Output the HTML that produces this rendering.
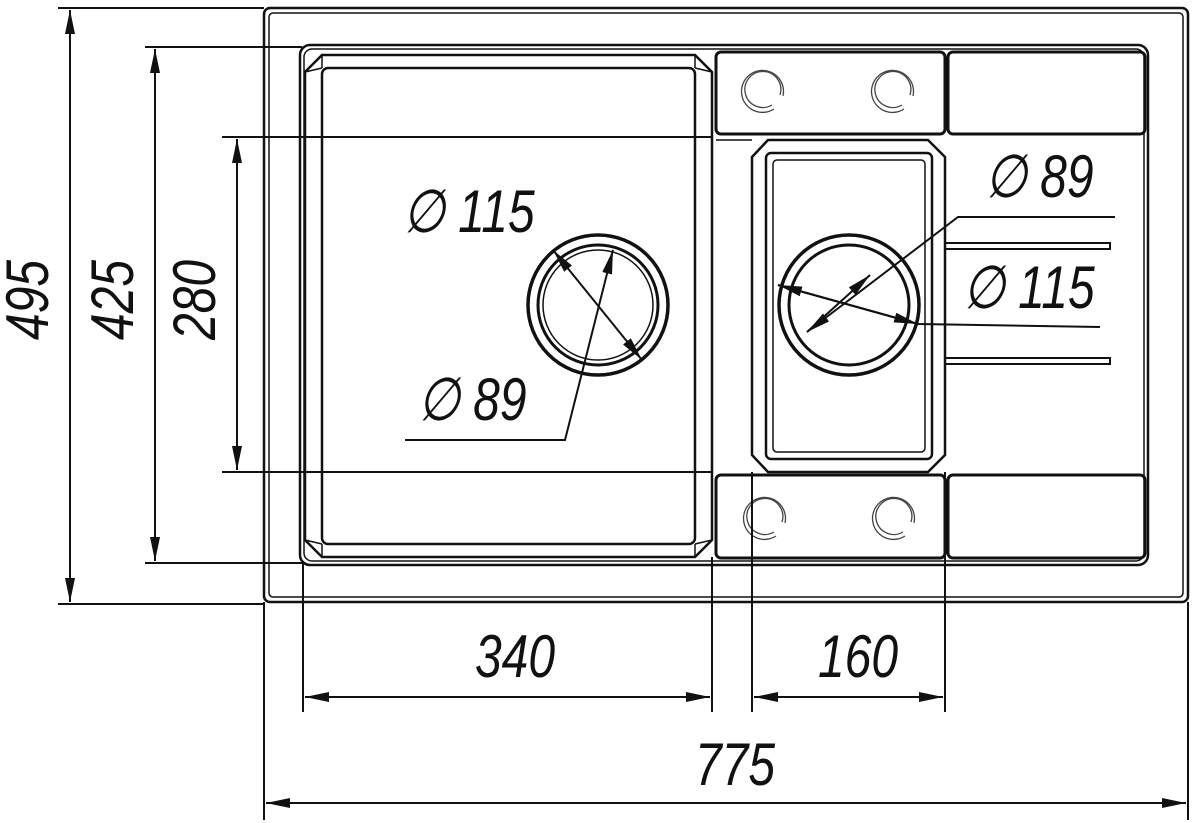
<!DOCTYPE html>
<html><head><style>
html,body{margin:0;padding:0;background:#fff;}
svg{display:block;}
text{font-family:"Liberation Sans",sans-serif;font-style:italic;fill:#111;}
</style></head><body>
<svg width="1200" height="823" viewBox="0 0 1200 823" xmlns="http://www.w3.org/2000/svg">
<defs>
<marker id="a" viewBox="0 0 24 10" refX="24" refY="5" markerWidth="24" markerHeight="10" orient="auto-start-reverse" markerUnits="userSpaceOnUse">
<path d="M0,0 L24,5 L0,10 Z" fill="#111"/></marker>
</defs>
<g fill="none" stroke="#111" stroke-width="2.5">
<rect x="264" y="8" width="924" height="594" rx="6"/>
<rect x="269" y="13" width="914" height="584" rx="4" stroke-width="1.5"/>
<rect x="300" y="45" width="848" height="520" rx="10"/>
<rect x="304" y="49" width="840" height="512" rx="8" stroke-width="1.5"/>
<path d="M322,55 L695,55 L712,72 L712,540 L695,557 L322,557 L305,540 L305,72 Z"/>
<rect x="322" y="68" width="373" height="476" rx="6"/>
<path d="M305,72 L322,68 M322,55 L322,68 M695,55 L695,68 M712,72 L695,68 M305,540 L322,544 M322,557 L322,544 M695,557 L695,544 M712,540 L695,544" stroke-width="1.5"/>
<rect x="716" y="52" width="229" height="82" rx="5" stroke-width="3"/>
<rect x="948" y="52" width="197" height="82" rx="5" stroke-width="3"/>
<rect x="716" y="475" width="229" height="83" rx="5" stroke-width="3"/>
<rect x="948" y="475" width="197" height="83" rx="5" stroke-width="3"/>
<path d="M768,140 L928,140 L945,157 L945,455 L928,472 L768,472 L752,455 L752,157 Z"/>
<rect x="766" y="153" width="166" height="306" rx="5"/>
<rect x="773" y="160" width="152" height="292" rx="4" stroke-width="1.5"/>
<line x1="716" y1="140" x2="752" y2="140" stroke-width="1.5"/>
<path d="M945,243 L1110,243 L1110,249 L945,249 M945,358 L1110,358 L1110,364 L945,364" stroke-width="2"/>
<g stroke-width="1.3" stroke="#444">
<path d="M774,109 A21,21 0 1 1 783,96"/><path d="M772,105 A18,18 0 1 1 780,95"/>
<path d="M904,109 A21,21 0 1 1 913,96"/><path d="M902,105 A18,18 0 1 1 910,95"/>
<path d="M776,536 A21,21 0 1 1 785,523"/><path d="M774,532 A18,18 0 1 1 782,522"/>
<path d="M905,536 A21,21 0 1 1 914,523"/><path d="M903,532 A18,18 0 1 1 911,522"/>
</g>
<circle cx="598" cy="305" r="70" stroke-width="3.5"/>
<circle cx="598" cy="305" r="60" stroke-width="3"/>
<circle cx="598" cy="305" r="55" stroke-width="1.5"/>
<circle cx="849" cy="305" r="70" stroke-width="3.5"/>
<circle cx="849" cy="305" r="60" stroke-width="3"/>
</g>
<g fill="none" stroke="#111" stroke-width="2">
<line x1="58" y1="8" x2="264" y2="8"/>
<line x1="58" y1="604" x2="264" y2="604"/>
<line x1="145" y1="47" x2="302" y2="47"/>
<line x1="145" y1="563" x2="302" y2="563"/>
<line x1="222" y1="137" x2="712" y2="137"/>
<line x1="222" y1="472" x2="712" y2="472"/>
<line x1="70" y1="10" x2="70" y2="602" marker-start="url(#a)" marker-end="url(#a)"/>
<line x1="155" y1="49" x2="155" y2="561" marker-start="url(#a)" marker-end="url(#a)"/>
<line x1="237" y1="139" x2="237" y2="470" marker-start="url(#a)" marker-end="url(#a)"/>
<line x1="264" y1="602" x2="264" y2="820"/>
<line x1="1188" y1="602" x2="1188" y2="820"/>
<line x1="303" y1="563" x2="303" y2="712"/>
<line x1="712" y1="557" x2="712" y2="712"/>
<line x1="752" y1="472" x2="752" y2="712"/>
<line x1="945" y1="472" x2="945" y2="712"/>
<line x1="305" y1="697" x2="710" y2="697" marker-start="url(#a)" marker-end="url(#a)"/>
<line x1="754" y1="697" x2="943" y2="697" marker-start="url(#a)" marker-end="url(#a)"/>
<line x1="266" y1="803" x2="1186" y2="803" marker-start="url(#a)" marker-end="url(#a)"/>
<line x1="553" y1="250" x2="642" y2="360" marker-start="url(#a)" marker-end="url(#a)"/>
<polyline points="405,440 565,440 613,250" marker-end="url(#a)"/>
<polyline points="1115,217 958,217 807,332" marker-end="url(#a)"/>
<line x1="870" y1="275" x2="807" y2="332" marker-start="url(#a)"/>
<polyline points="1100,327 918,324 778,285" marker-end="url(#a)"/>
<line x1="778" y1="285" x2="918" y2="324" marker-end="url(#a)"/>
</g>
<g font-size="60">
<text transform="translate(48,300) rotate(-90) scale(0.8,1)" text-anchor="middle">495</text>
<text transform="translate(133,300) rotate(-90) scale(0.8,1)" text-anchor="middle">425</text>
<text transform="translate(215,300) rotate(-90) scale(0.8,1)" text-anchor="middle">280</text>
<text transform="translate(515,677) scale(0.8,1)" text-anchor="middle">340</text>
<text transform="translate(858,677) scale(0.8,1)" text-anchor="middle">160</text>
<text transform="translate(735,785) scale(0.8,1)" text-anchor="middle">775</text>
<text transform="translate(403,232) scale(0.8,1)">∅ 115</text>
<text transform="translate(418,420) scale(0.8,1)">∅ 89</text>
<text transform="translate(985,197) scale(0.8,1)">∅ 89</text>
<text transform="translate(963,308) scale(0.8,1)">∅ 115</text>
</g>
</svg>
</body></html>
